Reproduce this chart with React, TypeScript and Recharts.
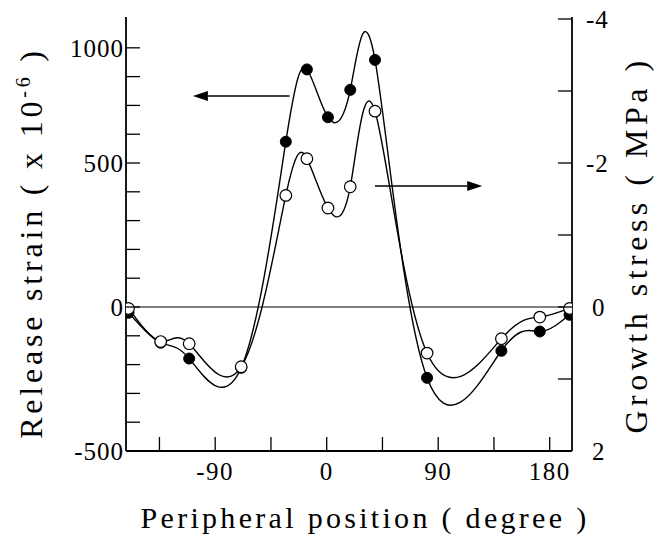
import React from "react";
import {
  ComposedChart,
  Line,
  Scatter,
  XAxis,
  YAxis,
  ReferenceLine,
} from "recharts";

// Peripheral position (degree) of each measuring point
const positions = [-160, -134, -111, -69, -33, -16, 1, 19, 39, 81, 141, 172, 196];
// Release strain (x 10^-6), filled circles, left axis
const releaseStrain = [-20, -124, -179, -211, 574, 825, 659, 754, 858, -246, -152, -85, -27];
// Growth stress (MPa), open circles, right axis (reversed)
const growthStress = [0.02, 0.48, 0.51, 0.83, -1.55, -2.06, -1.375, -1.67, -2.72, 0.64, 0.44, 0.14, 0.02];

const xTicks = [-135, -90, -45, 0, 45, 90, 135, 180];
const xLabels = [-90, 0, 90, 180];
const leftTicks = [-500, -400, -300, -200, -100, 0, 100, 200, 300, 400, 500, 600, 700, 800, 900];
const leftLabels: Record<number, string> = { [-500]: "-500", 0: "0", 500: "500", 900: "1000" };
const rightTicks = [-4, -3, -2, -1, 0, 1, 2];
const rightLabels = [-4, -2, 0, 2];

const strainData = positions.map((x, i) => ({ x, y: releaseStrain[i] }));
const stressData = positions.map((x, i) => ({ x, y: growthStress[i] }));

const FONT = "Liberation Serif, DejaVu Serif, serif";
const textStyle = (size: number, ls: number): React.CSSProperties => ({
  fontFamily: FONT,
  fontSize: size,
  letterSpacing: ls,
  fill: "#000",
});
const TICK_LEN = 14;

const BottomTick = (props: any) => {
  const { x, y, payload } = props;
  const v = payload.value;
  return (
    <g>
      <line x1={x} y1={y} x2={x} y2={y - TICK_LEN} stroke="#000" strokeWidth={1.3} />
      {xLabels.includes(v) && (
        <text x={x} y={y + 29} textAnchor="middle" style={textStyle(25, 1.5)}>
          {v}
        </text>
      )}
    </g>
  );
};

const TopTick = (props: any) => {
  const { x, y } = props;
  return <line x1={x} y1={y} x2={x} y2={y + TICK_LEN} stroke="#000" strokeWidth={1.3} />;
};

const LeftTick = (props: any) => {
  const { x, y, payload } = props;
  const v = payload.value;
  const lab = leftLabels[v];
  return (
    <g>
      <line x1={x} y1={y} x2={x + TICK_LEN} y2={y} stroke="#000" strokeWidth={1.3} />
      {lab !== undefined && (
        <text x={x - 2} y={y + 9} textAnchor="end" style={textStyle(25, 1)}>
          {lab}
        </text>
      )}
    </g>
  );
};

const RightTick = (props: any) => {
  const { x, y, payload } = props;
  const v = payload.value;
  return (
    <g>
      <line x1={x} y1={y} x2={x - TICK_LEN} y2={y} stroke="#000" strokeWidth={1.3} />
      {rightLabels.includes(v) && (
        <text x={x + (v < 0 ? 14 : 20)} y={y + 9} textAnchor="start" style={textStyle(25, 1)}>
          {v}
        </text>
      )}
    </g>
  );
};

const Arrow = (props: any) => {
  const { x1, y1, x2, y2 } = props;
  const dir = x2 > x1 ? 1 : -1;
  const hl = 15;
  const hw = 5;
  return (
    <g>
      <line x1={x1} y1={y1} x2={x2 - dir * hl} y2={y2} stroke="#000" strokeWidth={1.5} />
      <polygon
        points={`${x2},${y2} ${x2 - dir * hl},${y2 - hw} ${x2 - dir * hl},${y2 + hw}`}
        fill="#000"
      />
    </g>
  );
};

const FilledDot = (props: any) => <circle cx={props.cx} cy={props.cy} r={5.5} fill="#000" stroke="#000" strokeWidth={1} />;
const OpenDot = (props: any) => <circle cx={props.cx} cy={props.cy} r={5.8} fill="#fff" stroke="#000" strokeWidth={1.2} />;

const LeftTitle = (props: any) => {
  const vb = props.viewBox || { x: 0, y: 17, width: 126, height: 434 };
  const bx = vb.x + 42;
  const cy = vb.y + vb.height / 2 + 9;
  return (
    <text x={bx} y={cy} transform={`rotate(-90 ${bx} ${cy})`} textAnchor="middle" style={textStyle(32, 3.8)}>
      Release strain  ( x 10<tspan dy={-12} style={{ fontSize: 20 }}>-6</tspan><tspan dy={12}> )</tspan>
    </text>
  );
};

const RightTitle = (props: any) => {
  const vb = props.viewBox || { x: 572, y: 17, width: 85, height: 434 };
  const bx = vb.x + 75;
  const cy = vb.y + vb.height / 2 + 11;
  return (
    <text x={bx} y={cy} transform={`rotate(-90 ${bx} ${cy})`} textAnchor="middle" style={textStyle(32, 4.5)}>
      Growth stress  ( MPa )
    </text>
  );
};

const BottomTitle = (props: any) => {
  const vb = props.viewBox || { x: 126, y: 451, width: 446, height: 86 };
  const cx = vb.x + vb.width / 2 + 16;
  return (
    <text x={cx} y={vb.y + 77} textAnchor="middle" style={textStyle(30, 3.3)}>
      Peripheral position ( degree )
    </text>
  );
};

export default function App() {
  return (
    <div style={{ position: "absolute", left: 0, top: 0, width: 657, height: 537, background: "#fff" }}>
      <ComposedChart width={657} height={537} margin={{ top: 17, right: 0, bottom: 0, left: 0 }}>
        <XAxis
          xAxisId="bottom"
          dataKey="x"
          type="number"
          domain={[-162, 198]}
          ticks={xTicks}
          interval={0}
          tick={<BottomTick />}
          tickLine={false}
          tickSize={0}
          tickMargin={0}
          height={86}
          axisLine={{ stroke: "#000", strokeWidth: 1.8 }}
          allowDataOverflow
          label={{ content: <BottomTitle /> }}
        />
        <XAxis
          xAxisId="top"
          orientation="top"
          dataKey="x"
          type="number"
          domain={[-162, 198]}
          ticks={xTicks}
          interval={0}
          tick={<TopTick />}
          tickLine={false}
          tickSize={0}
          tickMargin={0}
          height={0}
          axisLine={{ stroke: "#000", strokeWidth: 1.8 }}
          allowDataOverflow
        />
        <YAxis
          yAxisId="left"
          type="number"
          domain={[-500, 1007]}
          ticks={leftTicks}
          interval={0}
          tick={<LeftTick />}
          tickLine={false}
          tickSize={0}
          tickMargin={0}
          width={126}
          axisLine={{ stroke: "#000", strokeWidth: 1.8 }}
          allowDataOverflow
          label={{ content: <LeftTitle /> }}
        />
        <YAxis
          yAxisId="right"
          orientation="right"
          type="number"
          reversed
          domain={[-4.028, 2]}
          ticks={rightTicks}
          interval={0}
          tick={<RightTick />}
          tickLine={false}
          tickSize={0}
          tickMargin={0}
          width={85}
          axisLine={{ stroke: "#000", strokeWidth: 1.8 }}
          allowDataOverflow
          label={{ content: <RightTitle /> }}
        />
        <ReferenceLine xAxisId="bottom" yAxisId="left" y={0} stroke="#000" strokeWidth={1.2} />
        <ReferenceLine
          xAxisId="bottom"
          yAxisId="left"
          segment={[{ x: -30, y: 733 }, { x: -108, y: 733 }]}
          shape={<Arrow />}
          ifOverflow="visible"
        />
        <ReferenceLine
          xAxisId="bottom"
          yAxisId="right"
          segment={[{ x: 39, y: -1.68 }, { x: 125.5, y: -1.68 }]}
          shape={<Arrow />}
          ifOverflow="visible"
        />
        <Line
          xAxisId="bottom"
          yAxisId="left"
          data={strainData}
          dataKey="y"
          type="natural"
          dot={false}
          stroke="#000"
          strokeWidth={1.4}
          isAnimationActive={false}
        />
        <Line
          xAxisId="bottom"
          yAxisId="right"
          data={stressData}
          dataKey="y"
          type="natural"
          dot={false}
          stroke="#000"
          strokeWidth={1.4}
          isAnimationActive={false}
        />
        <Scatter
          xAxisId="bottom"
          yAxisId="left"
          data={strainData}
          dataKey="y"
          shape={<FilledDot />}
          isAnimationActive={false}
        />
        <Scatter
          xAxisId="bottom"
          yAxisId="right"
          data={stressData}
          dataKey="y"
          shape={<OpenDot />}
          isAnimationActive={false}
        />
      </ComposedChart>
    </div>
  );
}
